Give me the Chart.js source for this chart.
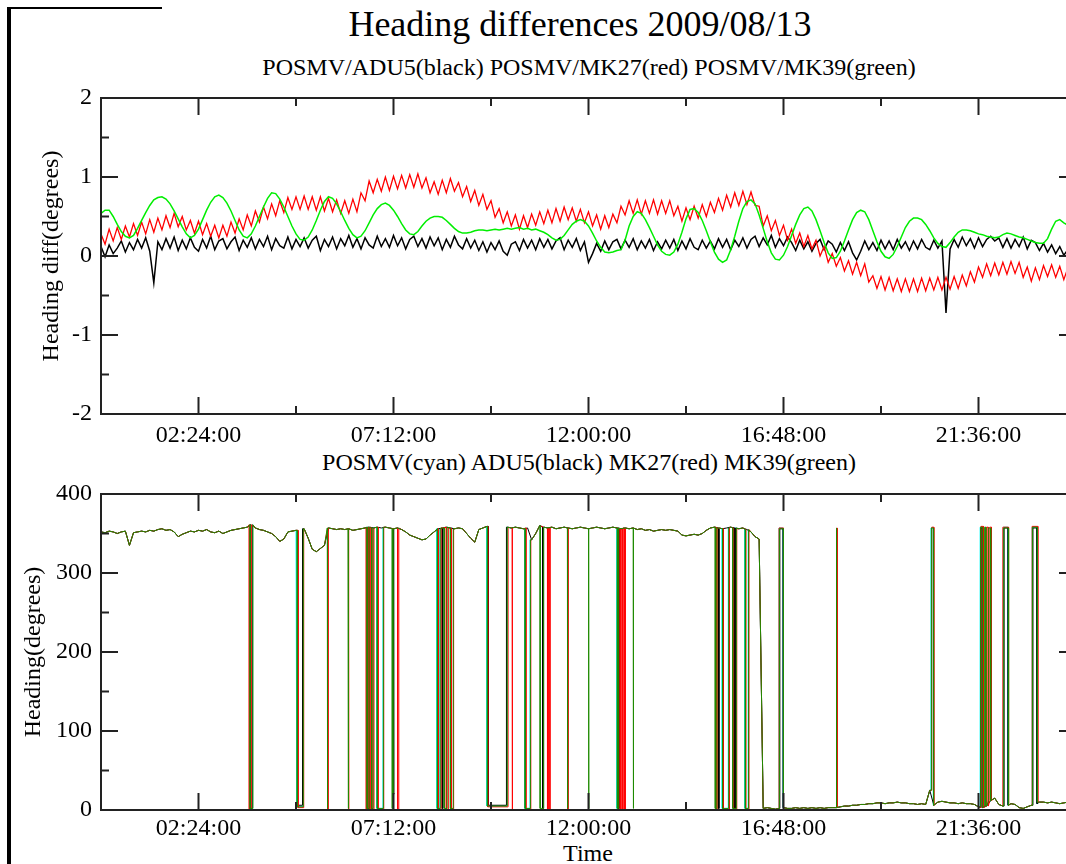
<!DOCTYPE html>
<html lang="en">
<head>
    <meta charset="UTF-8">
    <title>Heading differences 2009/08/13</title>
    <script src="https://cdn.jsdelivr.net/npm/chart.js@4.4.1/dist/chart.umd.min.js"></script>
    <style>
        html, body {
            margin: 0;
            padding: 0;
            width: 1066px;
            height: 864px;
            overflow: hidden;
            background: #ffffff;
        }
        body {
            position: relative;
            font-family: 'Liberation Serif', 'Times New Roman', serif;
            color: #000000;
        }
        .panel {
            position: absolute;
            left: 0;
            width: 1100px;
        }
        .text {
            position: absolute;
            width: 1000px;
            text-align: center;
            white-space: nowrap;
        }
        .bar { position: absolute; background: #000000; }
    </style>
</head>
<body>
    <div class="bar" style="left:7px; top:7px; width:4px; height:857px;"></div>
    <div class="bar" style="left:7px; top:7px; width:155px; height:2px;"></div>

    <div class="text" style="left:80px; top:6px; font-size:36px; line-height:36px;">Heading differences 2009/08/13</div>
    <div class="text" style="left:89px; top:55px; font-size:24px; line-height:24px;">POSMV/ADU5(black) POSMV/MK27(red) POSMV/MK39(green)</div>
    <div class="text" style="left:89px; top:450px; font-size:24px; line-height:24px;">POSMV(cyan) ADU5(black) MK27(red) MK39(green)</div>
    <div class="text" style="left:88px; top:841px; font-size:24px; line-height:24px;">Time</div>

    <div class="panel" style="top:0; height:460px;"><canvas id="diffChart"></canvas></div>
    <div class="panel" style="top:460px; height:404px;"><canvas id="headingChart"></canvas></div>

    <script>
        // samples every 0.1 h, starting at 00:00
        const STEP_HOURS = 0.1;
        const TICK_HOURS = 2.4;

        // top panel: heading differences (degrees)
        const adu5Diff = [
            .12,-.01,.14,.03,.10,.19,.05,.17,.08,.21,
            .10,.23,.06,-.34,.18,.08,.22,.10,.24,.07,
            .20,.09,.23,.11,.06,.21,.10,.25,.08,.19,
            .22,.09,.18,.24,.07,.20,.11,.23,.09,.21,
            .12,.25,.08,.22,.13,.10,.24,.09,.21,.12,
            .23,.10,.20,.25,.07,.21,.12,.24,.09,.22,
            .13,.26,.11,.22,.09,.23,.14,.10,.25,.12,
            .22,.11,.26,.13,.23,.09,.21,.25,.12,.22,
            .10,.24,.13,.23,.08,.21,.11,.25,.14,.09,
            .22,.10,.20,.07,.18,.05,.17,.08,.19,.06,
            .01,.15,.18,.07,.21,.10,.20,.08,.22,.11,
            .21,.09,.19,.23,.08,.20,.11,.22,.07,.18,
            -.08,.03,.16,.06,.19,.08,.18,.21,.09,.20,
            .11,.22,.08,.19,.10,.21,.07,.18,.09,.20,
            .10,.21,.07,.19,.09,.22,.11,.08,.20,.10,
            .19,.09,.22,.11,.21,.08,.20,.12,.23,.10,
            .21,.25,.12,.23,.14,.26,.11,.22,.13,.24,
            .17,.07,.20,.09,.18,.06,.16,.21,.08,.19,
            .15,.05,.17,.07,.18,.04,-.05,.06,.19,.08,
            .17,.07,.20,.09,.19,.08,.21,.10,.18,.07,
            .19,.09,.21,.11,.08,.20,.10,.19,-.72,.09,
            .21,.11,.24,.13,.22,.10,.23,.12,.21,.25,
            .19,.23,.11,.22,.10,.21,.12,.24,.09,.20,
            .17,.07,.16,.05,.14,.03,.12,.01,.08,-.01
        ];
        const mk27Diff = [
            .28,.15,.34,.19,.36,.21,.38,.24,.41,.26,
            .43,.28,.46,.30,.48,.33,.51,.36,.54,.37,
            .50,.33,.45,.29,.44,.27,.41,.25,.39,.23,
            .39,.25,.43,.29,.47,.33,.52,.38,.57,.43,
            .62,.47,.66,.51,.70,.55,.74,.59,.75,.59,
            .76,.59,.75,.58,.75,.57,.73,.56,.71,.54,
            .70,.54,.72,.56,.80,.70,.95,.80,.97,.82,
            1.0,.83,1.01,.85,1.02,.86,1.03,.87,1.04,.86,
            .99,.80,.94,.78,.96,.80,.98,.82,.93,.75,
            .88,.69,.83,.64,.78,.59,.70,.49,.60,.42,
            .56,.38,.52,.34,.51,.36,.53,.39,.56,.41,
            .58,.42,.60,.44,.62,.46,.61,.44,.59,.42,
            .56,.38,.52,.34,.51,.36,.53,.42,.63,.52,
            .70,.54,.71,.53,.70,.54,.71,.53,.70,.54,
            .70,.51,.63,.44,.61,.46,.63,.48,.65,.50,
            .68,.55,.73,.58,.77,.62,.80,.64,.82,.65,
            .81,.64,.63,.38,.51,.32,.45,.26,.39,.20,
            .34,.16,.29,.12,.26,.09,.20,.00,.12,-.08,
            .03,-.13,-.02,-.19,-.06,-.23,-.08,-.25,-.10,-.33,
            -.25,-.41,-.26,-.43,-.27,-.44,-.29,-.45,-.29,-.45,
            -.29,-.45,-.28,-.44,-.28,-.43,-.27,-.43,-.27,-.42,
            -.26,-.41,-.24,-.38,-.20,-.33,-.14,-.27,-.10,-.25,
            -.09,-.24,-.08,-.23,-.07,-.22,-.08,-.27,-.14,-.32,
            -.15,-.30,-.12,-.26,-.11,-.27,-.13,-.30,-.15,-.32
        ];
        const mk39Diff = [
            .54,.58,.58,.50,.40,.31,.25,.23,.26,.35,
            .45,.55,.64,.71,.74,.75,.72,.66,.57,.47,
            .37,.28,.23,.26,.34,.46,.58,.68,.75,.77,
            .74,.67,.57,.45,.33,.25,.23,.28,.38,.50,
            .62,.73,.80,.79,.72,.62,.50,.38,.28,.21,
            .20,.24,.33,.45,.58,.69,.75,.73,.66,.56,
            .45,.35,.27,.23,.25,.32,.42,.52,.60,.65,
            .67,.64,.58,.50,.41,.33,.28,.27,.31,.38,
            .44,.48,.50,.50,.49,.45,.40,.35,.31,.29,
            .29,.30,.32,.33,.33,.32,.33,.34,.33,.34,
            .35,.34,.35,.36,.34,.35,.33,.34,.32,.30,
            .27,.23,.20,.21,.26,.33,.40,.44,.46,.44,
            .38,.29,.19,.11,.05,.04,.05,.07,.08,.20,
            .38,.50,.56,.54,.46,.36,.25,.14,.06,.02,
            .01,.05,.15,.30,.47,.59,.60,.55,.45,.32,
            .18,.05,-.04,-.08,-.05,.08,.25,.44,.60,.69,
            .71,.66,.52,.35,.18,.04,-.04,-.05,.01,.12,
            .26,.40,.52,.60,.62,.57,.46,.32,.17,.04,
            -.03,-.02,.06,.19,.33,.46,.55,.58,.56,.46,
            .32,.18,.06,-.01,-.03,.02,.12,.24,.36,.44,
            .48,.48,.46,.40,.32,.23,.16,.12,.11,.17,
            .24,.30,.33,.33,.32,.30,.28,.27,.25,.24,
            .23,.24,.27,.29,.28,.26,.24,.23,.21,.19,
            .17,.16,.16,.22,.34,.44,.46,.42,.39,.38
        ];

        // bottom panel: common heading track (degrees)
        const trackDeg = [
            352,351,353,352,350,352,353,335,351,352,
            353,352,354,353,355,356,354,355,352,346,
            349,351,353,352,354,353,355,352,351,353,
            350,352,354,355,356,357,358,361,357,355,
            354,352,350,346,340,343,352,353,354,355,
            356,344,330,327,331,335,357,356,355,356,
            355,356,354,355,356,357,358,357,358,357,
            358,357,356,357,355,352,348,346,344,342,
            343,348,352,356,357,358,357,356,357,356,
            350,344,339,355,357,359,358,358,358,358,
            358,357,358,357,356,357,342,350,360,358,
            357,358,356,357,358,357,356,357,358,357,
            356,357,358,357,356,357,358,357,356,357,
            356,357,355,356,354,355,353,354,355,354,
            355,354,353,348,347,348,349,348,350,354,
            357,358,357,356,357,358,357,356,357,355,
            352,346,343,2,3,2,1,2,3,2,
            2,3,2,3,2,3,2,3,2,3,
            3,3,4,5,5,6,6,7,7,8,
            8,9,9,8,9,9,10,9,9,8,
            8,7,8,7,25,6,10,11,10,9,
            9,8,9,8,8,7,4,3,5,12,
            15,7,5,6,8,7,3,2,4,6,
            8,10,10,9,10,9,8,9,10,9
        ];

        // wrap-arounds per sensor: [start hour, end hour, heading shown meanwhile]
        const posmvFlips = [
            [3.66,3.73,2],[4.82,4.97,4],[6.56,6.59,2],[6.79,6.94,2],[8.27,8.34,2],
            [9.50,9.99,5],[10.43,10.56,2],[12.70,12.73,2],[15.29,15.44,2],[15.85,15.93,2],
            [16.69,16.79,357],[20.43,20.48,357],[21.64,21.69,358],[22.21,22.33,358],[22.92,23.04,358]
        ];
        const adu5Flips = [
            [3.68,3.72,2],[4.84,4.96,6],[6.55,6.57,2],[6.60,6.62,2],[7.20,7.21,20],[8.40,8.42,2],
            [9.53,9.98,6],[10.87,10.89,2],[12.74,12.76,2],[15.20,15.22,2],[15.60,15.62,2],
            [16.71,16.79,356],[21.66,21.69,357],[22.23,22.33,357],[22.94,23.04,357]
        ];
        const mk27Flips = [
            [3.65,3.70,1],[4.85,4.99,3],[5.58,5.59,1],[6.09,6.10,1],[6.53,6.55,1],[6.57,6.59,1],
            [6.61,6.63,1],[6.67,6.72,1],[6.82,6.96,1],[7.30,7.33,1],[8.30,8.37,1],[8.50,8.55,1],
            [8.62,8.68,1],[9.52,10.02,4],[10.12,10.13,1],[10.46,10.58,1],[10.99,11.01,1],
            [11.03,11.06,1],[11.49,11.50,1],[12.78,12.80,1],[12.83,12.85,1],[12.88,12.91,1],
            [15.14,15.17,1],[15.32,15.47,1],[15.57,15.65,1],[15.87,15.95,1],
            [16.69,16.80,357],[18.11,18.12,357],[20.45,20.50,358],[21.66,21.72,359],
            [21.80,21.84,358],[21.88,21.92,358],[22.20,22.34,358],[22.92,23.06,359]
        ];
        const mk39Flips = [
            [3.67,3.74,2],[4.83,4.98,4],[5.57,5.58,2],[6.08,6.09,2],[6.55,6.60,2],[6.66,6.70,2],
            [6.80,6.95,2],[7.17,7.19,2],[8.28,8.35,2],[8.45,8.52,2],[8.60,8.67,2],[9.51,10.00,5],
            [10.44,10.57,2],[10.81,10.89,2],[11.48,11.49,2],[12.00,12.01,2],[12.71,12.74,2],
            [13.10,13.11,2],[15.12,15.16,2],[15.30,15.45,2],[15.55,15.64,2],[15.86,15.94,2],
            [16.70,16.80,356],[18.10,18.11,357],[20.44,20.49,357],[21.65,21.70,358],
            [21.75,21.78,358],[21.85,21.90,357],[22.22,22.34,357],[22.93,23.05,358]
        ];

        const tickFont = { family: "'Liberation Serif', serif", size: 24 };

        function sampled(values) {
            return values.map((v, i) => ({ x: i * STEP_HOURS, y: v }));
        }

        function trackAt(h) {
            const i = Math.min(trackDeg.length - 1, Math.round(h / STEP_HOURS));
            return trackDeg[i];
        }

        function headingSeries(flips) {
            const pts = [];
            let f = 0;
            trackDeg.forEach((v, i) => {
                const h = i * STEP_HOURS;
                while (f < flips.length && flips[f][0] <= h) {
                    const [a, b, low] = flips[f];
                    pts.push({ x: a, y: trackAt(a) }, { x: a, y: low }, { x: b, y: low }, { x: b, y: trackAt(b) });
                    f++;
                }
                const inside = flips.some(([a, b]) => h >= a && h <= b);
                if (!inside) pts.push({ x: h, y: v });
            });
            return pts;
        }

        function timeLabel(v) {
            const k = Math.round(v / TICK_HOURS);
            if (k % 2 === 0) return '';
            const m = Math.round(v * 60);
            return String(Math.floor(m / 60)).padStart(2, '0') + ':' + String(m % 60).padStart(2, '0') + ':00';
        }

        // frame and inward ticks, grace style
        const frameTicks = {
            id: 'frameTicks',
            afterDraw(chart) {
                const { ctx, chartArea: a, scales: { x, y } } = chart;
                ctx.save();
                ctx.strokeStyle = '#222';
                ctx.lineWidth = 2;
                ctx.strokeRect(a.left, a.top, a.right - a.left, a.bottom - a.top);
                ctx.beginPath();
                x.ticks.forEach(t => {
                    const px = x.getPixelForValue(t.value);
                    const len = t.label ? 17 : 8;
                    ctx.moveTo(px, a.bottom); ctx.lineTo(px, a.bottom - len);
                    ctx.moveTo(px, a.top); ctx.lineTo(px, a.top + len);
                });
                y.ticks.forEach(t => {
                    const py = y.getPixelForValue(t.value);
                    const len = t.label ? 17 : 8;
                    ctx.moveTo(a.left, py); ctx.lineTo(a.left + len, py);
                    ctx.moveTo(a.right, py); ctx.lineTo(a.right - len, py);
                });
                ctx.stroke();
                ctx.restore();
            }
        };

        function line(data, color, width, order) {
            return {
                data: data,
                borderColor: color,
                borderWidth: width,
                pointRadius: 0,
                tension: 0,
                fill: false,
                order: order
            };
        }

        function panelOptions(cfg) {
            return {
                responsive: true,
                maintainAspectRatio: false,
                animation: false,
                layout: { padding: { left: 0, right: 24, top: cfg.top, bottom: cfg.bottom } },
                plugins: { legend: { display: false }, tooltip: { enabled: false } },
                scales: {
                    x: {
                        type: 'linear',
                        min: 0,
                        max: 24,
                        grid: { display: false, drawTicks: false },
                        border: { display: false },
                        ticks: {
                            stepSize: TICK_HOURS,
                            autoSkip: false,
                            maxRotation: 0,
                            padding: cfg.xPad,
                            color: '#000',
                            font: tickFont,
                            callback: timeLabel
                        },
                        afterFit: s => { s.height = cfg.xHeight; }
                    },
                    y: {
                        min: cfg.yMin,
                        max: cfg.yMax,
                        grid: { display: false, drawTicks: false },
                        border: { display: false },
                        ticks: {
                            stepSize: cfg.yStep,
                            padding: 9,
                            color: '#000',
                            font: tickFont,
                            callback: v => (v % cfg.yMajor === 0 ? String(v) : '')
                        },
                        title: {
                            display: true,
                            text: cfg.yTitle,
                            color: '#000',
                            font: tickFont,
                            padding: { top: cfg.yTitlePad, bottom: 0 }
                        },
                        afterFit: s => { s.width = 101; }
                    }
                }
            };
        }

        document.addEventListener('DOMContentLoaded', () => {
            new Chart(document.getElementById('diffChart'), {
                type: 'line',
                data: {
                    datasets: [
                        line(sampled(adu5Diff), '#000000', 1.5, 2),
                        line(sampled(mk27Diff), '#ff0000', 1.3, 1),
                        line(sampled(mk39Diff), '#00ee00', 1.5, 0)
                    ]
                },
                options: panelOptions({
                    top: 98, bottom: 6, xHeight: 40, xPad: 7,
                    yMin: -2, yMax: 2, yStep: 0.5, yMajor: 1,
                    yTitle: 'Heading diff(degrees)', yTitlePad: 37
                }),
                plugins: [frameTicks]
            });

            new Chart(document.getElementById('headingChart'), {
                type: 'line',
                data: {
                    datasets: [
                        line(headingSeries(posmvFlips), '#00ffff', 1, 3),
                        line(headingSeries(adu5Flips), '#000000', 1, 2),
                        line(headingSeries(mk27Flips), '#ff0000', 1, 1),
                        line(headingSeries(mk39Flips), '#1f8a00', 1, 0)
                    ]
                },
                options: panelOptions({
                    top: 34, bottom: 4, xHeight: 50, xPad: 4,
                    yMin: 0, yMax: 400, yStep: 50, yMajor: 100,
                    yTitle: 'Heading(degrees)', yTitlePad: 19
                }),
                plugins: [frameTicks]
            });
        });
    </script>
</body>
</html>
